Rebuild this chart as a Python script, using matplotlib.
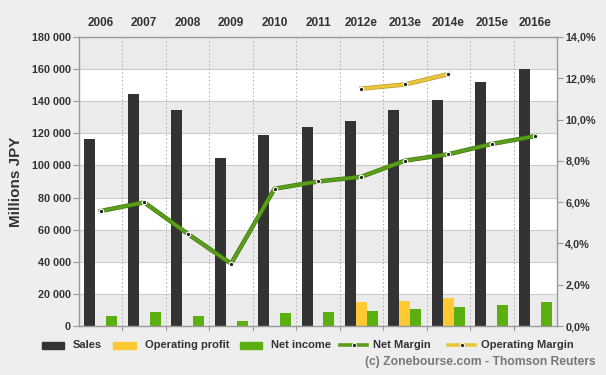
import matplotlib
matplotlib.use("Agg")
import matplotlib.pyplot as plt
import matplotlib.patheffects as pe
from matplotlib.patches import Rectangle
from matplotlib.lines import Line2D
import numpy as np

plt.rcParams['font.family'] = ['Liberation Sans', 'DejaVu Sans']

years = ["2006", "2007", "2008", "2009", "2010", "2011", "2012e", "2013e", "2014e", "2015e", "2016e"]
sales = [116300, 144300, 134600, 104700, 118800, 123800, 127700, 134400, 140800, 152000, 159900]
op_profit = [None, None, None, None, None, None, 14700, 15600, 17400, None, None]
net_income = [6400, 8700, 6000, 3100, 7900, 8500, 9300, 10600, 11800, 13300, 14700]
net_margin = [5.57, 5.99, 4.47, 3.02, 6.65, 7.0, 7.23, 8.01, 8.32, 8.82, 9.2]
op_margin = [None, None, None, None, None, None, 11.5, 11.7, 12.2, None, None]
legend_labels = ["Sales", "Operating profit", "Net income", "Net Margin", "Operating Margin"]

C_SALES = "#333333"
C_OP = "#FFC933"
C_NET = "#5BB010"
C_NM = "#5A9E1A"
C_OM = "#E9C63C"
BG = "#EEEEEE"
TXT = "#333333"

W, H = 606, 375
fig = plt.figure(figsize=(W / 100, H / 100), dpi=100, facecolor=BG)
ax = fig.add_axes([79 / W, 1 - 326 / H, (557 - 79) / W, (326 - 37) / H])
ax.set_facecolor(BG)

n = len(years)
x = np.arange(n)
w = 0.253

# bands
for i, lo in enumerate(range(0, 180000, 20000)):
    ax.axhspan(lo, lo + 20000, color=("#EBEBEB" if i % 2 == 0 else "#FFFFFF"), zorder=0, lw=0)
for y in range(20000, 180000, 20000):
    ax.axhline(y, color="#CCCCCC", lw=0.8, zorder=0.5)
for b in np.arange(0.5, n - 0.5, 1):
    ax.axvline(b, color="#AAAAAA", lw=0.7, ls=(0, (1.5, 2.5)), zorder=0.6)

ax.bar(x - w, sales, width=w, color=C_SALES, zorder=2)
op_x = [xi for xi, v in zip(x, op_profit) if v is not None]
op_v = [v for v in op_profit if v is not None]
ax.bar(np.array(op_x), op_v, width=w, color=C_OP, zorder=2)
ax.bar(x + w, net_income, width=w, color=C_NET, zorder=2)

ax.set_xlim(-0.5, n - 0.5)
ax.set_ylim(0, 180000)
ax.set_yticks(range(0, 180001, 20000))
ax.set_yticklabels([f"{v:,}".replace(",", " ") for v in range(0, 180001, 20000)])
ax.set_xticks(x)
ax.set_xticklabels(years)
ax.xaxis.tick_top()
ax.tick_params(axis='x', length=0, pad=6, labelsize=8.5, labelcolor=TXT)
for lab in ax.get_xticklabels():
    lab.set_fontweight('bold')
ax.tick_params(axis='y', length=4, color="#999999", pad=2, labelsize=7.8, labelcolor=TXT)
for lab in ax.get_yticklabels():
    lab.set_fontweight('bold')
ax.set_ylabel("Millions JPY", fontsize=11, fontweight='bold', color=TXT, labelpad=6)
for s in ax.spines.values():
    s.set_color("#999999")
    s.set_linewidth(1.0)
for b in np.arange(0.5, n - 0.5, 1):
    ax.plot([b, b], [0, -2500], color="#999999", lw=0.8, clip_on=False, zorder=3)

ax2 = ax.twinx()
ax2.set_ylim(0, 14)
ax2.set_yticks(range(0, 15, 2))
ax2.set_yticklabels([f"{v},0%" for v in range(0, 15, 2)])
ax2.tick_params(axis='y', length=4, color="#999999", pad=2, labelsize=7.8, labelcolor=TXT)
for lab in ax2.get_yticklabels():
    lab.set_fontweight('bold')
for s in ax2.spines.values():
    s.set_visible(False)

ax2.plot(x, net_margin, color=C_NM, lw=2.2, zorder=4,
         path_effects=[pe.Stroke(linewidth=3.2, foreground="#3F7A10"), pe.Normal()])
ax2.plot(x, net_margin, ls='none', marker='o', ms=3.2, mfc="#222222", mec="white", mew=0.8, zorder=5)
om_x = [xi for xi, v in zip(x, op_margin) if v is not None]
om_v = [v for v in op_margin if v is not None]
ax2.plot(om_x, om_v, color=C_OM, lw=2.2, zorder=4,
         path_effects=[pe.Stroke(linewidth=3.2, foreground="#B8982A"), pe.Normal()])
ax2.plot(om_x, om_v, ls='none', marker='o', ms=3.2, mfc="#222222", mec="white", mew=0.8, zorder=5)

# manual legend
def fx(px):
    return px / W

def fy(py):
    return 1 - py / H

ly = 345
patch_items = [(42, 64, 73, C_SALES), (113, 136, 145, C_OP), (240, 262, 271, C_NET)]
for (x0, x1, tx, col), lab in zip(patch_items, legend_labels[:3]):
    fig.patches.append(Rectangle((fx(x0), fy(ly + 3.5)), fx(x1 - x0), 7 / H,
                                 transform=fig.transFigure, color=col, figure=fig))
    fig.text(fx(tx), fy(ly), lab, ha='left', va='center', fontsize=8, fontweight='bold', color=TXT)
line_items = [(340, 367, 373, C_NM), (448, 475, 481, C_OM)]
for (x0, x1, tx, col), lab in zip(line_items, legend_labels[3:]):
    fig.add_artist(Line2D([fx(x0), fx(x1)], [fy(ly), fy(ly)], transform=fig.transFigure,
                          color=col, lw=2.6))
    fig.add_artist(Line2D([fx((x0 + x1) / 2)], [fy(ly)], transform=fig.transFigure,
                          ls='none', marker='o', ms=3, mfc="#222222", mec="white", mew=0.7))
    fig.text(fx(tx), fy(ly), lab, ha='left', va='center', fontsize=8, fontweight='bold', color=TXT)

fig.text(fx(596), fy(362), "(c) Zonebourse.com - Thomson Reuters", ha='right', va='center',
         fontsize=8.7, fontweight='bold', color="#777777")

fig.savefig("out.png", dpi=100, facecolor=BG)
